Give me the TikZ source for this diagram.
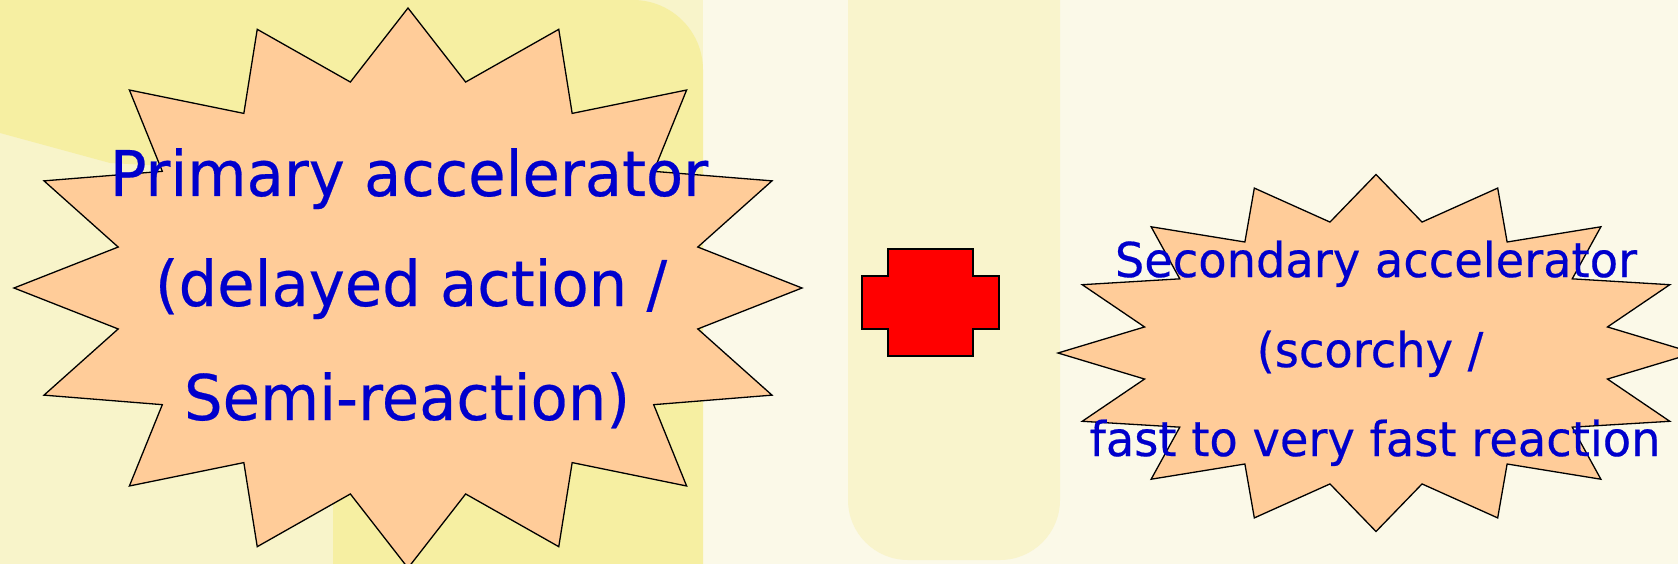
\documentclass[tikz,border=0pt]{standalone}
\usepackage{fontspec}
\newfontfamily\tfont[FakeStretch=0.965,FakeBold=0.4]{DejaVu Sans}
\definecolor{bgcream}{HTML}{FBF9E8}
\definecolor{bgpale}{HTML}{F8F4CA}
\definecolor{bgyellow}{HTML}{F6EFA2}
\definecolor{bgband}{HTML}{F9F4CC}
\definecolor{peach}{HTML}{FFCC99}
\definecolor{txtblue}{HTML}{0000CC}
\tikzset{
  starshape/.style={fill=peach, draw=black, line width=1.3pt, line join=miter},
  crossshape/.style={fill=red, draw=black, line width=2pt},
  bigtxt/.style={text=txtblue, font=\tfont\fontsize{63}{70}\selectfont, inner sep=0pt, anchor=base},
  smalltxt/.style={text=txtblue, font=\tfont\fontsize{48}{54}\selectfont, inner sep=0pt, anchor=base}
}
\begin{document}
\begin{tikzpicture}[x=1pt, y=-1pt]
\useasboundingbox (0,0) rectangle (1678,564);
\clip (0,0) rectangle (1678,564);
% background
\fill[bgcream] (0,0) rectangle (1678,564);
\fill[bgpale] (0,0) rectangle (703,564);
\fill[bgyellow] (0,0) -- (633,0) arc[start angle=90, end angle=0, x radius=70, y radius=-70] -- (703,564) -- (333,564) -- (333,175) -- (110,163) -- (0,133) -- cycle;
\fill[bgband] (848,0) -- (1060,0) -- (1060,500) arc[start angle=0, end angle=-90, x radius=60, y radius=-60] -- (908,560) arc[start angle=270, end angle=180, x radius=60, y radius=-60] -- cycle;
% star 1
\coordinate (s1) at (408,288);
\begin{scope}[shift={(s1)}]
\draw[starshape] (90:394 and 280)
  \foreach \i in {0,...,15} { -- ({90+\i*22.5+11.25}:295.5 and 210) -- ({90+(\i+1)*22.5}:394 and 280) } -- cycle;
\end{scope}
% star 2
\coordinate (s2) at (1376,353);
\begin{scope}[shift={(s2)}]
\draw[starshape] (90:318 and 178.5)
  \foreach \i in {0,...,15} { -- ({90+\i*22.5+11.25}:236 and 133.5) -- ({90+(\i+1)*22.5}:318 and 178.5) } -- cycle;
\end{scope}
% plus
\draw[crossshape] (888,249) -- (973,249) -- (973,276) -- (999,276) -- (999,329) -- (973,329) -- (973,356) -- (888,356) -- (888,329) -- (862,329) -- (862,276) -- (888,276) -- cycle;
\coordinate (plus) at (930,302);
% texts
\node[bigtxt] (p1) at (409,196) {Primary accelerator};
\node[bigtxt] (p2) at (411,306) {(delayed action /};
\node[bigtxt] (p3) at (407,420) {Semi-reaction)};
\node[smalltxt] (q1) at (1376,277) {Secondary accelerator};
\node[smalltxt] (q2) at (1370,367) {(scorchy /};
\node[smalltxt] (q3) at (1375,456) {fast to very fast reaction};
\end{tikzpicture}
\end{document}
